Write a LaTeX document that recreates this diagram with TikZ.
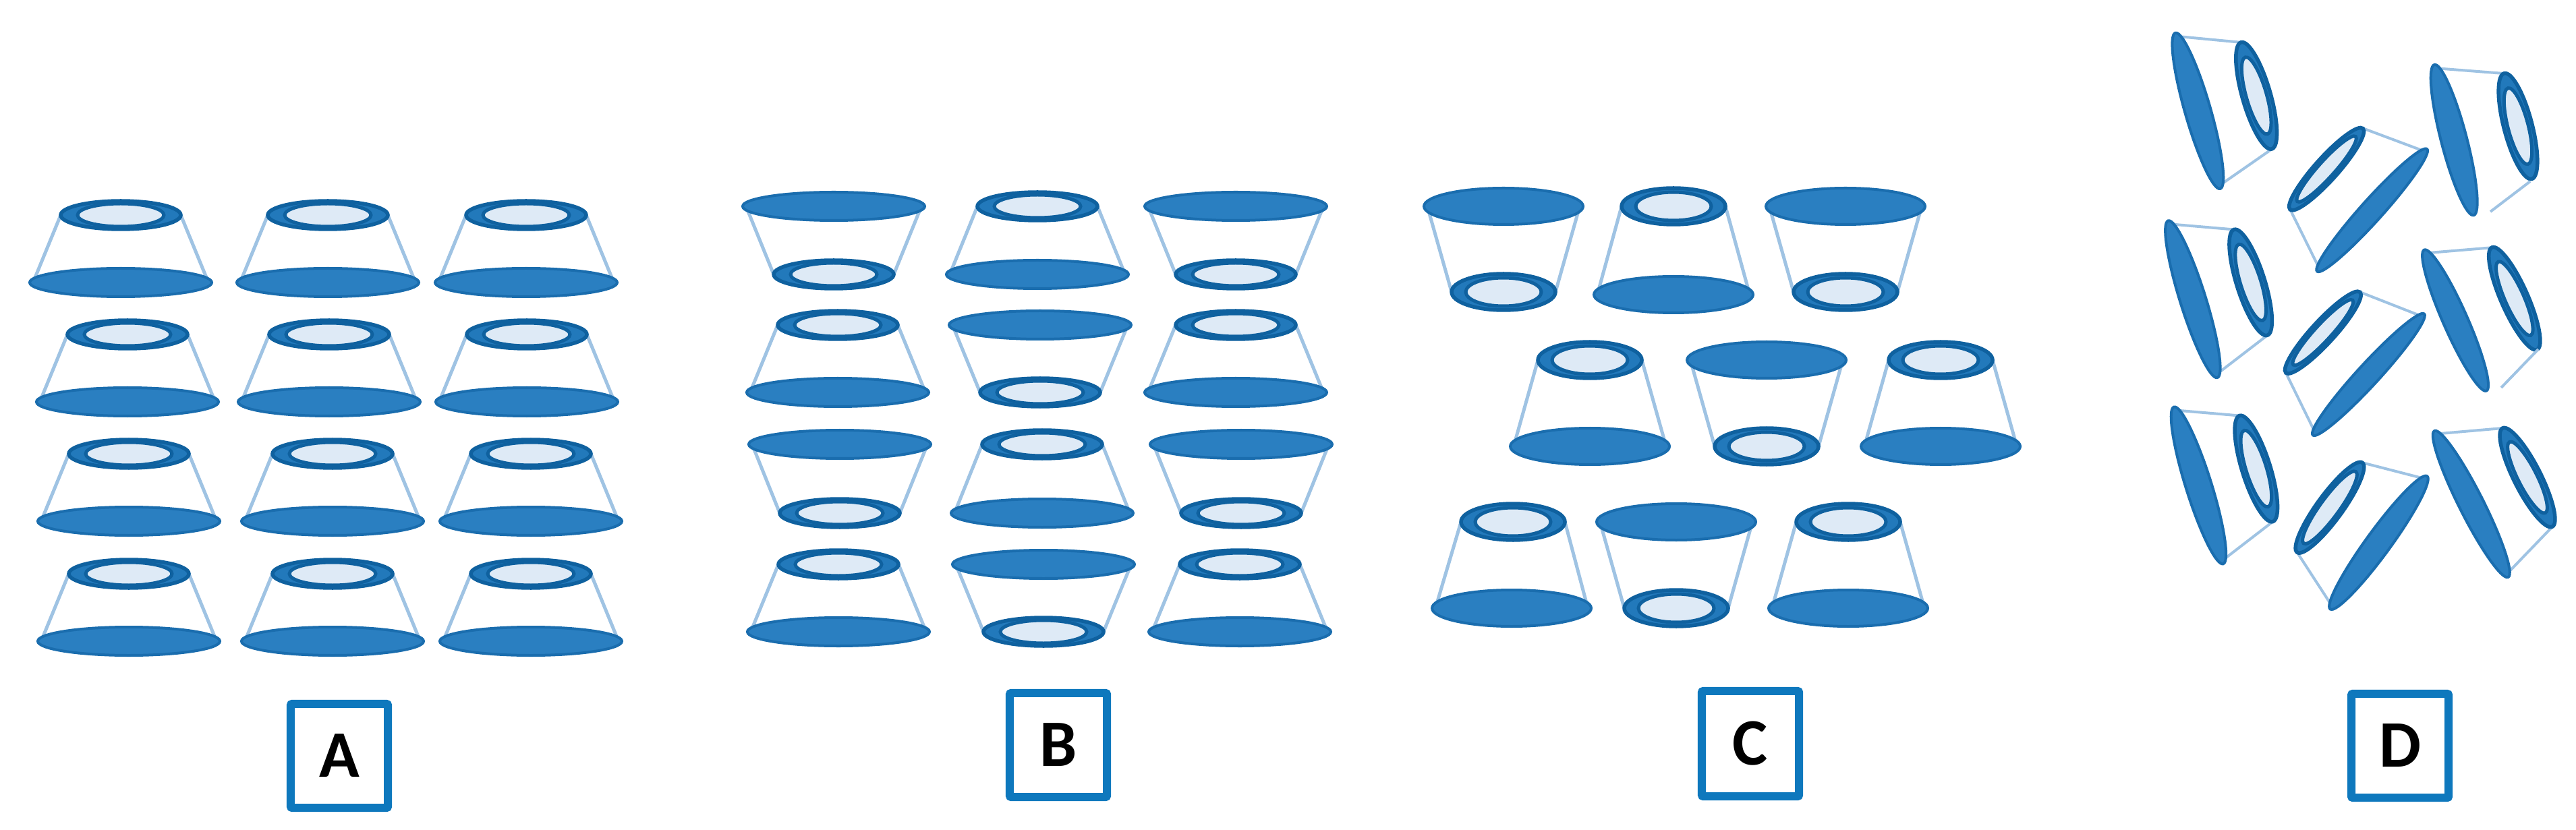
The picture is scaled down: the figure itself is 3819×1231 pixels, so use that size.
\documentclass[tikz,border=0pt]{standalone}
\usepackage{fontspec}
\setmainfont{Carlito}
\usetikzlibrary{calc}
\definecolor{bigfill}{HTML}{2A7FC1}
\definecolor{bigedge}{HTML}{1A6DAE}
\definecolor{ringedge}{HTML}{0F619F}
\definecolor{ringfill}{HTML}{2279BB}
\definecolor{holefill}{HTML}{DEEAF6}
\definecolor{sideline}{HTML}{9FC3E3}
\definecolor{boxedge}{HTML}{0E78BD}
\tikzset{
  bigdisc/.style={fill=bigfill,draw=bigedge,line width=0.04cm},
  ringdisc/.style={fill=ringfill,draw=ringedge,line width=0.055cm},
  holedisc/.style={fill=holefill,draw=ringedge,line width=0.05cm},
  sidewall/.style={draw=sideline,line width=\sidew},
  labelbox/.style={draw=boxedge,line width=0.12cm,rounded corners=0.02cm,fill=white,inner sep=0pt,font=\fontsize{28}{28}\selectfont\bfseries,text=black}
}
\newcommand{\setsizes}[6]{\def\bR{#1}\def\bRy{#2}\def\sR{#3}\def\sRy{#4}\def\iR{#5}\def\iRy{#6}}
\def\sidew{0.05cm}
\def\holefrac{0.72}
\newif\iflowerwall \lowerwalltrue
\newcommand{\frustum}[5]{%
  \coordinate (bc) at (#1,#2);
  \coordinate (sc) at (#3,#4);
  \iflowerwall\draw[sidewall] ($(bc)+(#5:\bR*0.01cm-0.05cm)$) -- ($(sc)+(#5:\sR*0.01cm)$);\fi
  \draw[sidewall] ($(bc)+(#5+180:\bR*0.01cm-0.05cm)$) -- ($(sc)+(#5+180:\sR*0.01cm)$);
  \path[bigdisc,rotate around={#5:(bc)}] (bc) ellipse [x radius=\bR*0.01cm,y radius=\bRy*0.01cm];
  \path[ringdisc,rotate around={#5:(sc)}] (sc) ellipse [x radius=\sR*0.01cm,y radius=\sRy*0.01cm];
  \path[holedisc,rotate around={#5:(sc)}] (sc) ellipse [x radius=\iR*0.01cm,y radius=\iRy*0.01cm];
}
\newcommand{\tilted}[8]{%
  \pgfmathsetmacro{\bcx}{(#1+#3)/2}\pgfmathsetmacro{\bcy}{(#2+#4)/2}
  \pgfmathsetmacro{\scx}{(#5+#7)/2}\pgfmathsetmacro{\scy}{(#6+#8)/2}
  \pgfmathsetmacro{\bR}{veclen(#3-#1,#4-#2)/2}
  \pgfmathsetmacro{\sR}{veclen(#7-#5,#8-#6)/2}
  \pgfmathsetmacro{\iR}{\holefrac*\sR}
  \pgfmathsetmacro{\tilt}{atan2(#2-#4,#3-#1)}
  \frustum{\bcx}{\bcy}{\scx}{\scy}{\tilt}
}
\newcommand{\zx}[1]{\fpeval{3150+0.429*#1}}
\newcommand{\zy}[1]{\fpeval{0.789*#1}}
\newcommand{\tiltedz}[8]{\tilted{\zx{#1}}{\zy{#2}}{\zx{#3}}{\zy{#4}}{\zx{#5}}{\zy{#6}}{\zx{#7}}{\zy{#8}}}
\begin{document}
\begin{tikzpicture}[x=0.01cm,y=-0.01cm]
\path[use as bounding box] (0,0) rectangle (3819,1231);
% Panel A
\setsizes{135}{21}{89}{21}{64}{17}
\frustum{179}{419}{179}{319}{0}
\frustum{486}{419}{486}{319}{0}
\frustum{780}{419}{780}{319}{0}
\frustum{189}{596}{189}{496}{0}
\frustum{488}{596}{488}{496}{0}
\frustum{781}{596}{781}{496}{0}
\frustum{191}{773}{191}{673}{0}
\frustum{493}{773}{493}{673}{0}
\frustum{787}{773}{787}{673}{0}
\frustum{191}{951}{191}{851}{0}
\frustum{493}{951}{493}{851}{0}
\frustum{787}{951}{787}{851}{0}
% Panel B
\frustum{1236}{306}{1236}{407}{0}
\frustum{1538}{407}{1538}{306}{0}
\frustum{1832}{306}{1832}{407}{0}
\frustum{1242}{582}{1242}{482}{0}
\frustum{1542}{482}{1542}{582}{0}
\frustum{1832}{582}{1832}{482}{0}
\frustum{1245}{659}{1245}{761}{0}
\frustum{1545}{761}{1545}{659}{0}
\frustum{1840}{659}{1840}{761}{0}
\frustum{1243}{937}{1243}{837}{0}
\frustum{1547}{837}{1547}{937}{0}
\frustum{1838}{937}{1838}{837}{0}
% Panel C
\setsizes{118}{27}{77}{27}{56}{21}
\frustum{2229}{306}{2229}{433}{0}
\frustum{2481}{437}{2481}{306}{0}
\frustum{2736}{306}{2736}{433}{0}
\frustum{2357}{662}{2357}{534}{0}
\frustum{2619}{534}{2619}{662}{0}
\frustum{2877}{662}{2877}{534}{0}
\frustum{2241}{902}{2243}{774}{0}
\frustum{2485}{774}{2485}{902}{0}
\frustum{2740}{902}{2740}{774}{0}
% Panel D
\def\sidew{0.04cm}
\def\bRy{19}\def\sRy{21}\def\iRy{15}
\tiltedz{175}{62}{330}{355}{400}{80}{510}{280}
\tiltedz{150}{415}{320}{710}{375}{432}{495}{630}
\tiltedz{170}{765}{340}{1060}{393}{782}{515}{980}
\lowerwallfalse
\tiltedz{1070}{122}{1206}{405}{1300}{140}{1418}{335}
\coordinate (wallAa) at (3751,269);
\coordinate (wallAb) at (3692,314);
\draw[sidewall] (wallAa) -- (wallAb);
\def\bRy{18}\def\sRy{20}\def\iRy{14}
\tiltedz{1035}{470}{1250}{735}{1259}{468}{1435}{655}
\coordinate (wallBa) at (3763,518);
\coordinate (wallBb) at (3708,575);
\draw[sidewall] (wallBa) -- (wallBb);
\lowerwalltrue
\tiltedz{1070}{810}{1325}{1085}{1305}{805}{1478}{990}
\def\holefrac{0.8}
\def\bRy{16}\def\sRy{17}\def\iRy{12}
\tiltedz{665}{510}{1045}{280}{570}{393}{825}{242}
\tiltedz{650}{818}{1035}{590}{555}{700}{815}{550}
\def\bRy{18}\def\sRy{19}\def\iRy{14}
\tiltedz{710}{1145}{1045}{895}{595}{1038}{822}{870}
% Labels
\node[labelbox,minimum width=1.44cm,minimum height=1.54cm] (boxA) at (503,1121) {A};
\node[labelbox,minimum width=1.44cm,minimum height=1.54cm] (boxB) at (1569,1105) {B};
\node[labelbox,minimum width=1.44cm,minimum height=1.56cm] (boxC) at (2595,1103) {C};
\node[labelbox,minimum width=1.44cm,minimum height=1.54cm] (boxD) at (3558,1106) {D};
\end{tikzpicture}
\end{document}
